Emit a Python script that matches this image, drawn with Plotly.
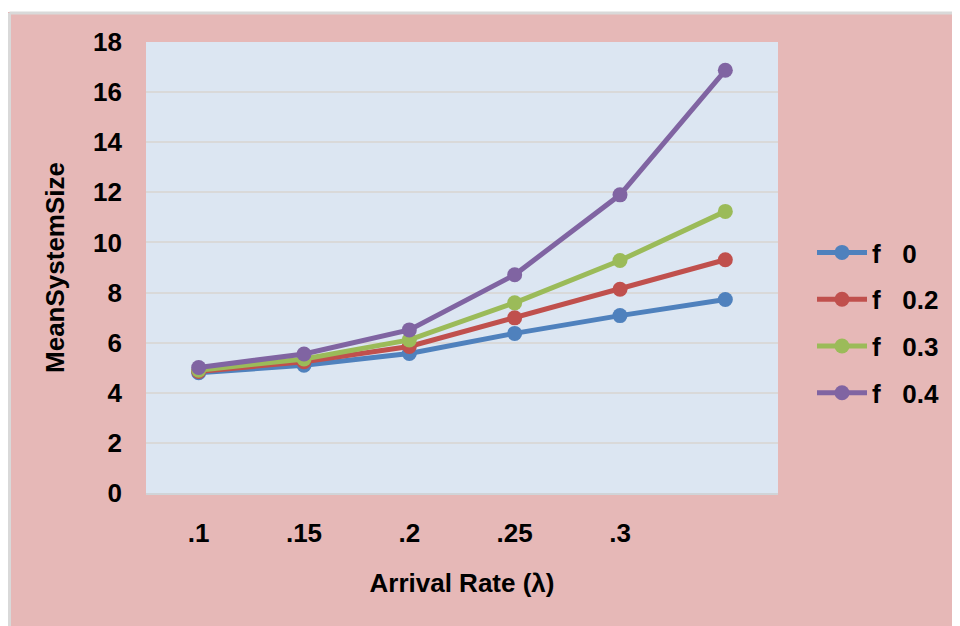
import plotly.graph_objects as go

categories = [".1", ".15", ".2", ".25", ".3", ".35"]
tick_labels = [".1", ".15", ".2", ".25", ".3", ""]

series_names = ["f\u00a0\u00a0\u00a00", "f\u00a0\u00a0\u00a00.2", "f\u00a0\u00a0\u00a00.3", "f\u00a0\u00a0\u00a00.4"]
f0 = [4.8, 5.1, 5.57, 6.37, 7.08, 7.72]
f02 = [4.85, 5.24, 5.85, 6.99, 8.13, 9.31]
f03 = [4.9, 5.35, 6.11, 7.59, 9.28, 11.24]
f04 = [5.01, 5.55, 6.51, 8.71, 11.9, 16.87]
colors = ["#4F81BD", "#C0504D", "#9BBB59", "#8064A2"]

FONT = "Liberation Sans, Arial, sans-serif"
FS = 26

fig = go.Figure()
for i, (name, vals) in enumerate(zip(series_names, [f0, f02, f03, f04])):
    fig.add_trace(go.Scatter(
        x=categories, y=vals, name=name, mode="lines+markers",
        line=dict(color=colors[i], width=5),
        marker=dict(color=colors[i], size=15),
        legendgroup=f"g{i}",
    ))

# page has an 8px body margin; coordinates below are in figure pixels
W, H = 960, 626
ml, mr, mt, mb = 138, 190, 34, 141
pw, ph = W - ml - mr, H - mt - mb

def px(x):
    return (x - ml) / pw

def py(y):
    return (H - mb - y) / ph

fig.update_layout(
    width=W, height=H,
    margin=dict(l=ml, r=mr, t=mt, b=mb, pad=0),
    paper_bgcolor="#E6B8B7",
    plot_bgcolor="#DCE6F2",
    font=dict(family=FONT, size=FS, color="#000000"),
    showlegend=True,
    legend=dict(
        x=px(804), y=py(221), xanchor="left", yanchor="top",
        bgcolor="rgba(0,0,0,0)", font=dict(family=FONT, size=FS, color="#000", weight="bold"),
        tracegroupgap=10, itemwidth=50,
    ),
    xaxis=dict(
        type="category", range=[-0.5, 5.5],
        tickvals=categories, ticktext=tick_labels,
        tickfont=dict(family=FONT, size=FS, color="#000", weight="bold"),
        showgrid=False, zeroline=False, showline=True, linecolor="#D0D4D8", linewidth=2,
        ticks="", ticklabelstandoff=16,
        title=dict(text="Arrival Rate (\u03bb)", font=dict(family=FONT, size=FS, color="#000", weight="bold"), standoff=27),
        fixedrange=True,
    ),
    yaxis=dict(
        range=[0, 18], dtick=2, tick0=0,
        tickfont=dict(family=FONT, size=FS, color="#000", weight="bold"),
        showgrid=True, gridcolor="#D9D9D9", gridwidth=1.5, zeroline=False,
        showline=False, ticks="", ticklabelstandoff=23,
        title=dict(text="MeanSystemSize", font=dict(family=FONT, size=FS, color="#000", weight="bold"), standoff=20),
        fixedrange=True,
    ),
    shapes=[
        dict(type="rect", xref="paper", yref="paper", x0=px(0), x1=px(W), y0=py(0), y1=py(4),
             fillcolor="#FFFFFF", line=dict(width=0), layer="above"),
        dict(type="line", xref="paper", yref="paper", x0=px(1.5), x1=px(W), y0=py(5), y1=py(5),
             line=dict(width=3, color="#D9D9D9"), layer="above"),
        dict(type="line", xref="paper", yref="paper", x0=px(1.5), x1=px(1.5), y0=py(5), y1=py(H),
             line=dict(width=3, color="#D9D9D9"), layer="above"),
    ],
)

fig.write_html("out.html")
